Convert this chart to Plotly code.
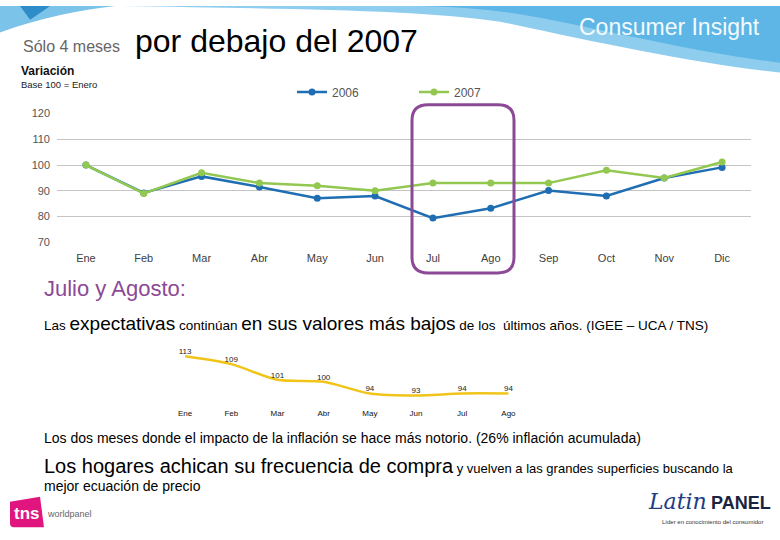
import plotly.graph_objects as go

# ---------------- data ----------------
months = ["Ene", "Feb", "Mar", "Abr", "May", "Jun", "Jul", "Ago", "Sep", "Oct", "Nov", "Dic"]
serie_2006 = [100, 89.2, 95.6, 91.5, 87.1, 88.0, 79.4, 83.2, 90.1, 88.0, 95.0, 99.1]
serie_2007 = [100, 89.0, 97.0, 93.0, 92.0, 90.0, 93.0, 93.0, 93.0, 98.0, 95.0, 101.2]
y_ticks = [70, 80, 90, 100, 110, 120]

igee_months = ["Ene", "Feb", "Mar", "Abr", "May", "Jun", "Jul", "Ago"]
igee_values = [113, 109, 101, 100, 94, 93, 94, 94]

W, H = 780, 540
FONT = "Liberation Sans, Arial, sans-serif"


def px(x):
    return x / W


def py(y):
    return 1 - y / H


fig = go.Figure()

fig.add_trace(go.Scatter(
    x=months, y=serie_2006, name="2006", mode="lines+markers",
    line=dict(color="#1F6EB3", width=2.5), marker=dict(size=7, color="#1F6EB3"),
    xaxis="x", yaxis="y"))
fig.add_trace(go.Scatter(
    x=months, y=serie_2007, name="2007", mode="lines+markers",
    line=dict(color="#92C850", width=2.5), marker=dict(size=7, color="#92C850"),
    xaxis="x", yaxis="y"))

fig.add_trace(go.Scatter(
    x=igee_months, y=igee_values, mode="lines+text", showlegend=False,
    text=[str(v) for v in igee_values], textposition="top center",
    textfont=dict(size=8, color="#222222", family=FONT),
    line=dict(color="#F0C419", width=2.5, shape="spline", smoothing=0.8),
    xaxis="x2", yaxis="y2", cliponaxis=False))

shapes = []
# header blue wave (right)
shapes.append(dict(type="path", xref="paper", yref="paper", layer="below",
                   path=f"M {px(120)},{py(0)} L {px(780)},{py(0)} L {px(780)},{py(68)} "
                        f"C {px(700)},{py(60)} {px(600)},{py(38)} {px(500)},{py(16)} "
                        f"C {px(420)},{py(4)} {px(300)},{py(3)} {px(120)},{py(0)} Z",
                   fillcolor="#8FCDEE", line=dict(width=0)))
shapes.append(dict(type="path", xref="paper", yref="paper", layer="below",
                   path=f"M {px(420)},{py(0)} L {px(780)},{py(0)} L {px(780)},{py(58)} "
                        f"C {px(700)},{py(48)} {px(620)},{py(28)} {px(540)},{py(12)} "
                        f"C {px(500)},{py(4)} {px(460)},{py(1)} {px(420)},{py(0)} Z",
                   fillcolor="#5DB6E6", line=dict(width=0)))
# header blue wedge (left)
shapes.append(dict(type="path", xref="paper", yref="paper", layer="below",
                   path=f"M {px(0)},{py(0)} L {px(115)},{py(0)} "
                        f"C {px(80)},{py(4)} {px(40)},{py(12)} {px(0)},{py(27)} Z",
                   fillcolor="#7CC3EA", line=dict(width=0)))
shapes.append(dict(type="path", xref="paper", yref="paper", layer="below",
                   path=f"M {px(20)},{py(0)} L {px(50)},{py(0)} "
                        f"C {px(42)},{py(6)} {px(36)},{py(10)} {px(30)},{py(14)} "
                        f"C {px(26)},{py(8)} {px(22)},{py(3)} {px(20)},{py(0)} Z",
                   fillcolor="#2E8CC8", line=dict(width=0)))

# purple rounded highlight box around Jul/Ago
x0, x1, y0, y1, r = 412, 514, 101, 273, 16
shapes.append(dict(type="path", xref="paper", yref="paper", layer="above",
                   path=(f"M {px(x0 + r)},{py(y0)} L {px(x1 - r)},{py(y0)} "
                         f"Q {px(x1)},{py(y0)} {px(x1)},{py(y0 + r)} "
                         f"L {px(x1)},{py(y1 - r)} Q {px(x1)},{py(y1)} {px(x1 - r)},{py(y1)} "
                         f"L {px(x0 + r)},{py(y1)} Q {px(x0)},{py(y1)} {px(x0)},{py(y1 - r)} "
                         f"L {px(x0)},{py(y0 + r)} Q {px(x0)},{py(y0)} {px(x0 + r)},{py(y0)} Z"),
                   line=dict(color="#8C4A96", width=3), fillcolor="rgba(0,0,0,0)"))

# tns logo square
shapes.append(dict(type="path", xref="paper", yref="paper",
                   path=f"M {px(10)},{py(507)} L {px(40)},{py(502)} L {px(44)},{py(533)} "
                        f"L {px(14)},{py(533)} Q {px(10)},{py(533)} {px(10)},{py(529)} Z",
                   fillcolor="#E0157D", line=dict(width=0)))

annotations = []


def txt(x, y, text, size, color="#000000", family=FONT, xanchor="left", yanchor="middle"):
    annotations.append(dict(x=px(x), y=py(y), xref="paper", yref="paper", text=text,
                            showarrow=False, xanchor=xanchor, yanchor=yanchor,
                            font=dict(size=size, color=color, family=family)))


txt(21, 41, "Sólo 4 meses", 16, "#666666")
txt(133, 36, "por debajo del 2007", 32, "#000000")
txt(762, 21, "Consumer Insight", 23, "#F4FAFE", xanchor="right")
txt(19, 66, "<b>Variación</b>", 12, "#111111")
txt(19, 80, "Base 100 = Enero", 9.5, "#222222")

txt(42, 289, "Julio y Agosto:", 22, "#8C4A96")
txt(42, 325,
    "<span style='font-size:13.5px'>Las </span>expectativas"
    "<span style='font-size:13.5px'> continúan </span>en sus valores más bajos"
    "<span style='font-size:13.5px'> de los  últimos años. (IGEE – UCA / TNS)</span>",
    19, "#000000")
txt(42, 442, "Los dos meses donde el impacto de la inflación se hace más notorio. (26% inflación acumulada)",
    14, "#000000")
txt(42, 470,
    "Los hogares achican su frecuencia de compra"
    "<span style='font-size:13px'> y vuelven a las grandes superficies buscando la</span>",
    20, "#000000")
txt(42, 491, "mejor ecuación de precio", 14, "#000000")

txt(27, 519, "<b>tns</b>", 17, "#FFFFFF", xanchor="center")
txt(45, 520, "worldpanel", 9, "#666666")
txt(646, 507, "<i>Latin</i>", 22, "#1B3E84", "DejaVu Serif, serif")
txt(773, 508, "<b>PANEL</b>", 18, "#1A2340", xanchor="right")
txt(712, 528, "Líder en conocimiento del consumidor", 6, "#333333", xanchor="center")

fig.update_layout(
    width=W, height=H, margin=dict(l=0, r=0, t=0, b=0),
    paper_bgcolor="white", plot_bgcolor="white",
    font=dict(family=FONT),
    showlegend=True,
    legend=dict(orientation="h", x=px(292), y=py(88), xanchor="left", yanchor="middle",
                font=dict(size=12, color="#555555"), itemwidth=30,
                entrywidth=77, entrywidthmode="pixels", bgcolor="rgba(0,0,0,0)"),
    xaxis=dict(domain=[px(57), px(751)], range=[-0.5, 11.5], showgrid=False, zeroline=False,
               tickfont=dict(size=11, color="#404040"), ticklabelstandoff=8,
               showline=False, fixedrange=True),
    yaxis=dict(domain=[py(241.7), py(110)], range=[70, 120], tickvals=y_ticks,
               showgrid=True, gridcolor="#C4C4C4", gridwidth=1, zeroline=False,
               tickfont=dict(size=11, color="#555555"), ticklabelstandoff=6),
    xaxis2=dict(domain=[px(162), px(531.5)], range=[-0.5, 7.5], showgrid=False, zeroline=False,
                showline=False, anchor="y2", tickfont=dict(size=8, color="#111111"),
                ticklabelstandoff=6),
    yaxis2=dict(domain=[py(404.3), py(352.3)], range=[90, 116], anchor="x2",
                showgrid=False, zeroline=False, showticklabels=False),
    shapes=shapes, annotations=annotations,
)

fig.write_html("out.html", config={"displayModeBar": False},
               post_script="document.body.style.margin='0';")
